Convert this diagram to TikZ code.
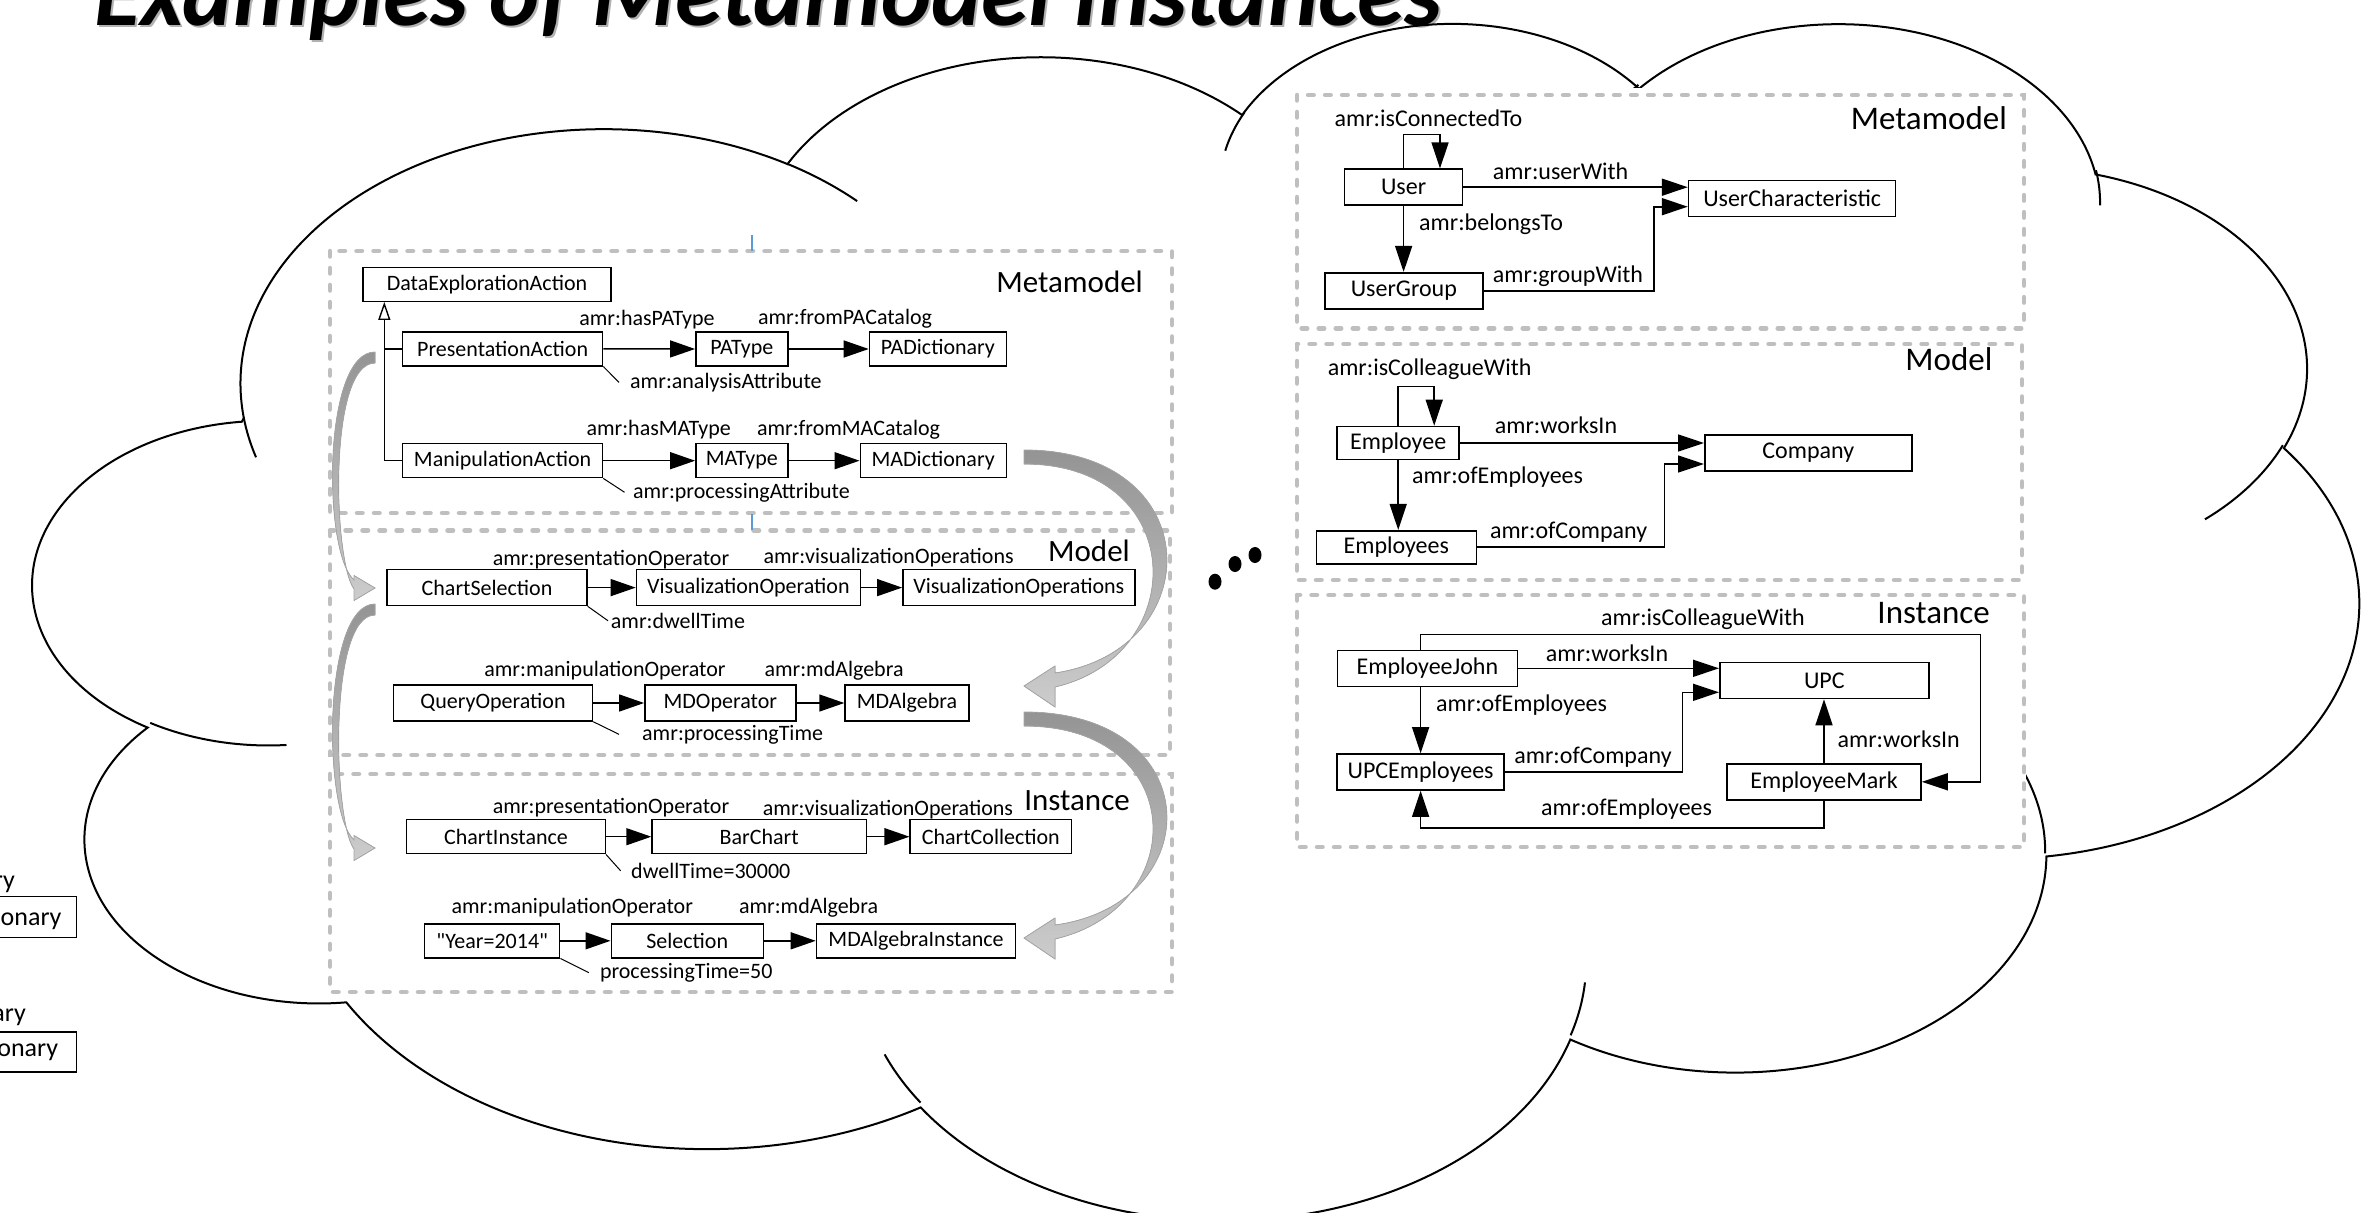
\documentclass[tikz,border=0pt]{standalone}
\usepackage{fontspec}
\setmainfont{Carlito}
\newfontfamily\plainquotes{Carlito}
\usetikzlibrary{arrows.meta}
\definecolor{dashgray}{HTML}{BFBFBF}
\definecolor{tickblue}{HTML}{5B9BD5}

% one lobe of the cloud: name, x radius, y radius, start angle, sweep
\newcommand{\cloudarc}[5]{%
  \pgfmathsetmacro\cloudts{atan2((#2)*sin(#4),(#3)*cos(#4))}%
  \pgfmathsetmacro\cloudte{atan2((#2)*sin((#4)+(#5)),(#3)*cos((#4)+(#5)))}%
  \pgfmathsetmacro\cloudtd{mod(\cloudte-\cloudts+720,360)}%
  \expandafter\xdef\csname #1\endcsname{arc[x radius=#2,y radius=#3,start angle=\cloudts,delta angle=\cloudtd]}}

\tikzset{
  box/.style={draw, line width=1.4pt, fill=white, inner sep=0pt, minimum height=34, font=\fontsize{22}{26}\selectfont},
  rbox/.style={box, line width=1.6pt, minimum height=36, font=\fontsize{24}{28}\selectfont},
  lbl/.style={inner sep=0pt, font=\fontsize{22}{26}\selectfont},
  rlbl/.style={lbl, font=\fontsize{24}{28}\selectfont},
  sect/.style={inner sep=0pt, font=\fontsize{31}{36}\selectfont},
  rsect/.style={sect, font=\fontsize{33}{38}\selectfont},
  rel/.style={line width=1.4pt, -{Triangle[length=25pt,width=17pt]}},
  rrel/.style={line width=1.6pt, -{Triangle[length=26pt,width=17pt]}},
  attr/.style={line width=1pt},
  levelbox/.style={draw=dashgray, line width=4.5pt, dash pattern=on 5.5pt off 11.5pt, line cap=round},
  bent/.style={draw=black!35, line width=0.8pt, top color=black!42, bottom color=black!20},
  cloudline/.style={line width=2pt},
  frag/.style={inner sep=0pt, font=\fontsize{26}{30}\selectfont},
  ttl/.style={inner sep=0pt, font=\fontsize{95.5}{100}\selectfont\bfseries\itshape}
}

\begin{document}
\begin{tikzpicture}[x=1pt,y=-1pt]
\fill[white] (0,0) rectangle (2373,1212);
\useasboundingbox (0,0) rectangle (2373,1212);

%title
\node[ttl, text=black!30, anchor=base west] (ttlshade) at (96,27.5) {Examples of Metamodel Instances};
\node[ttl, anchor=base west] (ttl) at (94,26) {Examples of Metamodel Instances};

%cloud
\begin{scope}[shift={(34,20)}, x=0.0538pt, y=-0.0277pt]
\cloudarc{clA}{6753}{9190}{-190.48748}{123.78053}
\cloudarc{clB}{5333}{7267}{-144.10238}{89.94523}
\cloudarc{clC}{4365}{5945}{-145.80792}{99.72302}
\cloudarc{clD}{4857}{6595}{-130.98607}{117.24173}
\cloudarc{clE}{5333}{7273}{-78.70888}{109.02692}
\cloudarc{clF}{6775}{9220}{-46.26725}{130.269}
\cloudarc{clG}{5785}{7867}{0.62502}{114.03333}
\cloudarc{clH}{6752}{9215}{22.4516}{115.17255}
\cloudarc{clI}{7720}{10543}{66.24263}{75.71102}
\cloudarc{clJ}{4360}{5918}{-274.94208}{146.73557}
\cloudarc{clK}{4345}{5945}{-246.8285}{152.51885}
\draw[cloudline] (3900,14370) \clA \clB \clC \clD \clE \clF \clG \clH \clI \clJ \clK -- cycle;
%hooks
\cloudarc{clhA}{4345}{5945}{86.742}{26.4295}
\cloudarc{clhB}{4360}{5918}{73.61047}{11.44747}
\cloudarc{clhC}{6752}{9215}{137.62415}{14.0811}
\cloudarc{clhD}{6752}{9215}{6.45327}{15.99835}
\cloudarc{clhE}{5785}{7867}{-70.29235}{70.91737}
\cloudarc{clhF}{5333}{7273}{30.31803}{27.7515}
\cloudarc{clhG}{4857}{6595}{-13.74433}{14.8589}
\cloudarc{clhH}{4857}{6595}{-149.18145}{18.19537}
\cloudarc{clhI}{4365}{5945}{-163.49427}{17.68635}
\cloudarc{clhJ}{6753}{9190}{-66.70695}{12.31935}
\cloudarc{clhK}{6753}{9190}{157.65435}{11.85817}
\draw[cloudline] (4693,26177) \clhA;
\draw[cloudline] (6928,34899) \clhB;
\draw[cloudline] (16478,39090) \clhC;
\draw[cloudline] (28827,34751) \clhD;
\draw[cloudline] (34129,22954) \clhE;
\draw[cloudline] (41798,15354) \clhF;
\draw[cloudline] (38324,5426) \clhG;
\draw[cloudline] (29078,3952) \clhH;
\draw[cloudline] (22141,4720) \clhI;
\draw[cloudline] (14000,5192) \clhJ;
\draw[cloudline] (4127,15789) \clhK;
\end{scope}

%pictures
\fill[white] (347,225) rectangle (1185,1000);
\fill[white] (1290,88) rectangle (2026,862);

%left edge
\node[frag, anchor=base east] (fry) at (15,888.3) {ry};
\draw[line width=1.4pt] (-10,896.7) rectangle (76.7,937.3);
\node[frag, anchor=base east] (fonary) at (61.7,925) {onary};
\node[frag, anchor=base east] (fary) at (26,1021.7) {ary};
\draw[line width=1.4pt] (-10,1032) rectangle (76.7,1072);
\node[frag, anchor=base east] (fonary2) at (58.3,1056.7) {onary};

%left levels
\draw[levelbox] (330,251) rectangle (1172,513);
\draw[levelbox] (330,530.5) rectangle (1170,755);
\draw[levelbox] (330,774) rectangle (1172,992);
\draw[tickblue, line width=1.2pt] (752,235) -- (752,251);
\draw[tickblue, line width=1.2pt] (752,514) -- (752,530);

%left metamodel
\node[sect, anchor=base east] (lmeta) at (1143,292.6) {Metamodel};
\node[box, minimum width=248] (dea) at (487,284.2) {DataExplorationAction};
\node[box, minimum width=200] (pa) at (502.6,348.8) {PresentationAction};
\node[box, minimum width=92] (patype) at (741.8,349) {PAType};
\node[box, minimum width=137] (padict) at (937.9,349) {PADictionary};
\node[box, minimum width=200] (ma) at (502.6,460.7) {ManipulationAction};
\node[box, minimum width=92] (matype) at (741.8,460.7) {MAType};
\node[box, minimum width=146] (madict) at (933.2,460.7) {MADictionary};
\node[lbl, anchor=base] (lhaspa) at (647,325.5) {amr:hasPAType};
\node[lbl, anchor=base] (lfrompa) at (845,324.5) {amr:fromPACatalog};
\node[lbl, anchor=base west] (lanalysis) at (630,388.3) {amr:analysisAttribute};
\node[lbl, anchor=base] (lhasma) at (658.7,435) {amr:hasMAType};
\node[lbl, anchor=base] (lfromma) at (848.5,435) {amr:fromMACatalog};
\node[lbl, anchor=base west] (lprocattr) at (633,498) {amr:processingAttribute};
\coordinate (trunk) at ([xshift=22pt]dea.south west);
\draw[line width=1.4pt, -{Triangle[open,length=18pt,width=12pt]}] (ma.west) -| (trunk);
\draw[line width=1.4pt] (pa.west) -- (pa.west -| trunk);
\draw[rel] (pa.east) -- (patype.west);
\draw[rel] (patype.east) -- (padict.west);
\draw[rel] (ma.east) -- (matype.west);
\draw[rel] (matype.east) -- (madict.west);
\draw[attr] (pa.south east) -- ([xshift=-11pt]lanalysis.west);
\draw[attr] (ma.south east) -- ([xshift=-8.5pt]lprocattr.west);

%left model
\node[sect, anchor=base east] (lmodel) at (1130,561.7) {Model};
\node[box, minimum width=200, minimum height=36] (cs) at (487,587.6) {ChartSelection};
\node[box, minimum width=224, minimum height=36] (visop) at (748.4,587.6) {VisualizationOperation};
\node[box, minimum width=232, minimum height=36] (visops) at (1018.8,587.6) {VisualizationOperations};
\node[box, minimum width=199, minimum height=36] (qo) at (493,703) {QueryOperation};
\node[box, minimum width=151, minimum height=36] (mdop) at (720.3,703) {MDOperator};
\node[box, minimum width=124, minimum height=36] (mdalg) at (907,703) {MDAlgebra};
\node[lbl, anchor=base] (lpres) at (611,565.7) {amr:presentationOperator};
\node[lbl, anchor=base] (lvis) at (888.6,563.3) {amr:visualizationOperations};
\node[lbl, anchor=base west] (ldwell) at (610.7,628.3) {amr:dwellTime};
\node[lbl, anchor=base] (lmanip) at (605,676.7) {amr:manipulationOperator};
\node[lbl, anchor=base] (lmdalg) at (834,676.7) {amr:mdAlgebra};
\node[lbl, anchor=base west] (lptime) at (642,740) {amr:processingTime};
\draw[rel] (cs.east) -- (visop.west);
\draw[rel] (visop.east) -- (visops.west);
\draw[rel] (qo.east) -- (mdop.west);
\draw[rel] (mdop.east) -- (mdalg.west);
\draw[attr] (cs.south east) -- ([xshift=-2.7pt]ldwell.west);
\draw[attr] (qo.south east) -- ([xshift=-23pt]lptime.west);

%left instance
\node[sect, anchor=base east] (linst) at (1130,810) {Instance};
\node[box, minimum width=198.5] (ci) at (506,836.7) {ChartInstance};
\node[box, minimum width=214.4] (bar) at (759.2,836.7) {BarChart};
\node[box, minimum width=161.3] (ccoll) at (990.8,836.7) {ChartCollection};
\node[box, minimum width=135] (year) at (492.2,940.8) {\plainquotes "Year=2014"};
\node[box, minimum width=152] (sel) at (687.2,940.8) {Selection};
\node[box, minimum width=199.2] (mdai) at (916,940.8) {MDAlgebraInstance};
\node[lbl, anchor=base] (lpres2) at (611,813.3) {amr:presentationOperator};
\node[lbl, anchor=base] (lvis2) at (888,815) {amr:visualizationOperations};
\node[lbl, anchor=base west] (ldwell2) at (631,878.3) {dwellTime=30000};
\node[lbl, anchor=base] (lmanip2) at (572.3,913.3) {amr:manipulationOperator};
\node[lbl, anchor=base] (lmdalg2) at (808.5,913.3) {amr:mdAlgebra};
\node[lbl, anchor=base west] (lptime2) at (599.8,978.3) {processingTime=50};
\draw[rel] (ci.east) -- (bar.west);
\draw[rel] (bar.east) -- (ccoll.west);
\draw[rel] (year.east) -- (sel.west);
\draw[rel] (sel.east) -- (mdai.west);
\draw[attr] (ci.south east) -- ([xshift=-10.4pt]ldwell2.west);
\draw[attr] (year.south east) -- ([xshift=-11pt]lptime2.west);

%bent arrows
\fill[bent] (375,352) .. controls (322.5,352) and (322.5,552) .. (354,580) -- (354,575.5) -- (375,588) -- (354,600.5) -- (354,589) .. controls (333,560) and (328,363) .. (375,363) -- cycle;
\fill[bent] (375,604) .. controls (322.5,604) and (322.5,811) .. (354,840) -- (354,835.5) -- (375,848) -- (354,860.5) -- (354,849) .. controls (333,820) and (328,615) .. (375,615) -- cycle;
\fill[bent] (1024,450) .. controls (1209,450) and (1209,650) .. (1055,673) -- (1055,666) -- (1024,686) -- (1055,707) -- (1055,687) .. controls (1192,655) and (1189,464) .. (1024,464) -- cycle;
\fill[bent] (1024,712) .. controls (1209,712) and (1209,904) .. (1055,925) -- (1055,918) -- (1024,938) -- (1055,959) -- (1055,939) .. controls (1192,907) and (1189,726) .. (1024,726) -- cycle;

%dots
\foreach \p in {(1215,581.7),(1235,564),(1255,555)}
  \fill \p ellipse[x radius=6.5, y radius=8];

%right levels
\draw[levelbox] (1297,95) rectangle (2024,328.3);
\draw[levelbox] (1297,344) rectangle (2022,580);
\draw[levelbox] (1297,595) rectangle (2024,847);

%right metamodel
\node[rsect, anchor=base east] (rmeta) at (2007,130) {Metamodel};
\node[rbox, minimum width=118] (user) at (1403.6,187.2) {User};
\node[rbox, minimum width=207] (uchar) at (1792.1,198.3) {UserCharacteristic};
\node[rbox, minimum width=158] (ugroup) at (1403.8,290.7) {UserGroup};
\node[rlbl, anchor=base] (lconn) at (1428.5,126.7) {amr:isConnectedTo};
\node[rlbl, anchor=base] (luserw) at (1560.6,179) {amr:userWith};
\node[rlbl, anchor=base west] (lbelongs) at (1419,230) {amr:belongsTo};
\node[rlbl, anchor=base] (lgroupw) at (1568,282.3) {amr:groupWith};
\coordinate (gwbend) at (1654,206.7);
\draw[rrel] (user.north) -- ++(0,-34) -| ([xshift=36.4pt]user.north);
\draw[rrel] (user.east) -- (user.east -| uchar.west);
\draw[rrel] (user.south) -- (user.south |- ugroup.north);
\draw[rrel] (ugroup.east) -| (gwbend) -- (gwbend -| uchar.west);

%right model
\node[rsect, anchor=base east] (rmodel) at (1992.6,370) {Model};
\node[rbox, minimum width=122, minimum height=33] (emp) at (1398.2,443) {Employee};
\node[rbox, minimum width=207] (comp) at (1808.3,452.7) {Company};
\node[rbox, minimum width=160, minimum height=33] (emps) at (1396.3,547.2) {Employees};
\node[rlbl, anchor=base] (lcolw) at (1429.6,375) {amr:isColleagueWith};
\node[rlbl, anchor=base] (lworks) at (1556,433.3) {amr:worksIn};
\node[rlbl, anchor=base west] (lofemp) at (1412,483.3) {amr:ofEmployees};
\node[rlbl, anchor=base] (lofcomp) at (1568.6,538.3) {amr:ofCompany};
\coordinate (ocbend) at (1664.4,464);
\draw[rrel] (emp.north) -- ++(0,-39.4) -| ([xshift=36pt]emp.north);
\draw[rrel] (emp.east) -- (emp.east -| comp.west);
\draw[rrel] (emp.south) -- (emp.south |- emps.north);
\draw[rrel] (emps.east) -| (ocbend) -- (ocbend -| comp.west);

%right instance
\node[rsect, anchor=base east] (rinst) at (1990,623.3) {Instance};
\node[rbox, minimum width=180] (john) at (1427.4,668.3) {EmployeeJohn};
\node[rbox, minimum width=209] (upc) at (1824.3,680.5) {UPC};
\node[rbox, minimum width=167] (upce) at (1420.6,772) {UPCEmployees};
\node[rbox, minimum width=194] (mark) at (1824,781.8) {EmployeeMark};
\node[rlbl, anchor=base] (lcolw2) at (1703,625) {amr:isColleagueWith};
\node[rlbl, anchor=base] (lworks2) at (1607,661) {amr:worksIn};
\node[rlbl, anchor=base west] (lofemp2) at (1436,711) {amr:ofEmployees};
\node[rlbl, anchor=base] (lofcomp2) at (1593,763.3) {amr:ofCompany};
\node[rlbl, anchor=base west] (lworks3) at (1837.4,747.7) {amr:worksIn};
\node[rlbl, anchor=base] (lofemp3) at (1626.6,815) {amr:ofEmployees};
\coordinate (cwbend) at (1980.4,634.3);
\coordinate (ocbend2) at (1682.3,692.3);
\draw[rrel] (upce.north |- john.north) |- (cwbend) |- (mark.east);
\draw[rrel] (john.east) -- (john.east -| upc.west);
\draw[rrel] (upce.north |- john.south) -- (upce.north);
\draw[rrel] (upce.east) -| (ocbend2) -- (ocbend2 -| upc.west);
\draw[rrel] (mark.north) -- (mark.north |- upc.south);
\draw[rrel] (mark.south) -- ++(0,27.4) -| (upce.south);
\end{tikzpicture}
\end{document}
